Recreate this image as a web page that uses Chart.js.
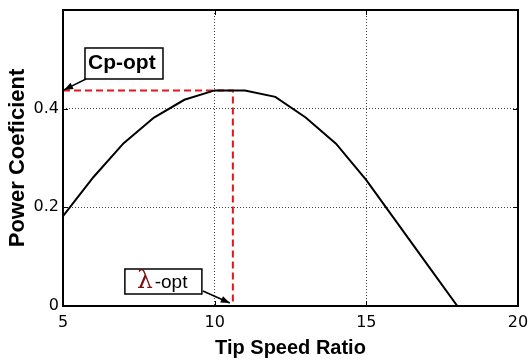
<!DOCTYPE html>
<html>
<head>
<meta charset="utf-8">
<script src="https://cdn.jsdelivr.net/npm/chart.js@4/dist/chart.umd.min.js"></script>
<style>
html,body{margin:0;padding:0;background:#fff;}
#wrap{width:528px;height:362px;}
</style>
</head>
<body>
<div id="wrap"><canvas id="c" width="528" height="362"></canvas></div>
<script>
// Data
const tipSpeedRatio = [5, 6, 7, 8, 9, 10, 11, 12, 13, 14, 15, 16, 17, 18, 18.5];
const powerCoefficient = [0.182, 0.261, 0.33, 0.382, 0.418, 0.437, 0.437, 0.424, 0.382, 0.329, 0.255, 0.17, 0.085, 0, 0];
const lambdaOpt = 10.6;
const cpOpt = 0.437;
const xTicks = [5, 10, 15, 20];
const yTicks = [0, 0.2, 0.4];

const curvePoints = tipSpeedRatio.map((x, i) => ({x, y: powerCoefficient[i]}));
const optPoints = [{x: 5, y: cpOpt}, {x: lambdaOpt, y: cpOpt}, {x: lambdaOpt, y: 0}];

function arrow(ctx, x1, y1, x2, y2) {
  ctx.beginPath(); ctx.moveTo(x1, y1); ctx.lineTo(x2, y2); ctx.stroke();
  const a = Math.atan2(y2 - y1, x2 - x1), L = 9, W = 3.5;
  ctx.beginPath();
  ctx.moveTo(x2, y2);
  ctx.lineTo(x2 - L*Math.cos(a) + W*Math.sin(a), y2 - L*Math.sin(a) - W*Math.cos(a));
  ctx.lineTo(x2 - L*Math.cos(a) - W*Math.sin(a), y2 - L*Math.sin(a) + W*Math.cos(a));
  ctx.closePath(); ctx.fill();
}

const framePlugin = {
  id: 'frame',
  afterDatasetsDraw(chart) {
    const {ctx, chartArea: a, scales} = chart;
    const xs = scales.x, ys = scales.y;
    ctx.save();
    // inner tick marks
    ctx.strokeStyle = '#000'; ctx.lineWidth = 1;
    xTicks.forEach(v => { const p = Math.round(xs.getPixelForValue(v)) + 0.5;
      ctx.beginPath(); ctx.moveTo(p, a.bottom); ctx.lineTo(p, a.bottom - 5);
      ctx.moveTo(p, a.top); ctx.lineTo(p, a.top + 5); ctx.stroke(); });
    yTicks.forEach(v => { const p = Math.round(ys.getPixelForValue(v)) + 0.5;
      ctx.beginPath(); ctx.moveTo(a.left, p); ctx.lineTo(a.left + 5, p);
      ctx.moveTo(a.right, p); ctx.lineTo(a.right - 5, p); ctx.stroke(); });
    // frame
    ctx.lineWidth = 2;
    ctx.strokeRect(a.left, a.top, a.right - a.left, a.bottom - a.top);

    // Cp-opt annotation
    const bx1 = xs.getPixelForValue(5.725), by1 = ys.getPixelForValue(0.523);
    const bw = 78, bh = 31;
    ctx.fillStyle = '#fff'; ctx.lineWidth = 1.5; ctx.strokeStyle = '#000';
    ctx.fillRect(bx1, by1, bw, bh); ctx.strokeRect(bx1, by1, bw, bh);
    ctx.fillStyle = '#000';
    ctx.font = 'bold 21px "Liberation Sans", Arial, sans-serif';
    ctx.textAlign = 'left'; ctx.textBaseline = 'middle';
    ctx.fillText('Cp-opt', bx1 + 3, by1 + bh/2);
    ctx.lineWidth = 1.5;
    arrow(ctx, bx1 + 1, by1 + bh, xs.getPixelForValue(5) + 1, ys.getPixelForValue(cpOpt) - 0.5);

    // λ-opt annotation
    const lx1 = xs.getPixelForValue(7.04), ly1 = ys.getPixelForValue(0.075);
    const lw = 77, lh = 25;
    ctx.fillStyle = '#fff'; ctx.strokeStyle = '#000'; ctx.lineWidth = 1.5;
    ctx.fillRect(lx1, ly1, lw, lh); ctx.strokeRect(lx1, ly1, lw, lh);
    ctx.textAlign = 'left'; ctx.textBaseline = 'alphabetic';
    const base = ly1 + 19;
    ctx.font = '25px "DejaVu Serif", serif';
    ctx.fillStyle = '#7a0f0f';
    ctx.fillText('λ', lx1 + 12, base);
    const lamW = ctx.measureText('λ').width;
    ctx.font = '19px "Liberation Sans", Arial, sans-serif';
    ctx.fillStyle = '#000';
    ctx.fillText('-opt', lx1 + 12 + lamW + 2, base);
    ctx.lineWidth = 1.5;
    arrow(ctx, lx1 + lw + 1, ly1 + lh - 3, xs.getPixelForValue(10.5), ys.getPixelForValue(0.006));
    ctx.restore();
  }
};

const tickFont = { size: 16, family: '"DejaVu Sans", sans-serif' };
const titleFamily = '"Liberation Sans", Arial, sans-serif';

new Chart(document.getElementById('c'), {
  type: 'line',
  data: {
    datasets: [
      { data: curvePoints, borderColor: '#000', borderWidth: 2, pointRadius: 0, tension: 0, fill: false },
      { data: optPoints, borderColor: '#e8141b', borderWidth: 2, borderDash: [7, 4], pointRadius: 0, tension: 0, fill: false }
    ]
  },
  options: {
    responsive: false,
    devicePixelRatio: 1,
    animation: false,
    layout: { padding: { top: 10, right: 10, left: 0, bottom: 0 } },
    plugins: { legend: { display: false }, tooltip: { enabled: false } },
    scales: {
      x: {
        type: 'linear', min: 5, max: 20,
        afterBuildTicks: s => { s.ticks = xTicks.map(v => ({value: v})); },
        afterFit: s => { s.height = 56; s.paddingLeft = 0; s.paddingRight = 0; },
        grid: { drawTicks: false, lineWidth: 1,
          color: c => (c.tick && (c.tick.value === 5 || c.tick.value === 20)) ? 'rgba(0,0,0,0)' : '#444' },
        border: { display: false, dash: [1, 2] },
        ticks: { padding: 7, color: '#000', maxRotation: 0, font: tickFont },
        title: { display: true, text: 'Tip Speed Ratio', color: '#000',
          font: { size: 20, weight: 'bold', family: titleFamily },
          padding: { top: 0, bottom: 2 } }
      },
      y: {
        type: 'linear', min: 0, max: 0.6,
        afterBuildTicks: s => { s.ticks = [0, 0.2, 0.4, 0.6].map(v => ({value: v})); },
        afterFit: s => { s.width = 63; s.paddingTop = 0; s.paddingBottom = 0; },
        grid: { drawTicks: false, lineWidth: 1,
          color: c => (c.tick && (c.tick.value === 0 || c.tick.value === 0.6)) ? 'rgba(0,0,0,0)' : '#444' },
        border: { display: false, dash: [1, 2] },
        ticks: { padding: 4, color: '#000',
          callback: v => yTicks.includes(v) ? String(v) : '',
          font: tickFont },
        title: { display: true, text: 'Power Coeficient', color: '#000',
          font: { size: 22, weight: 'bold', family: titleFamily },
          padding: { top: 5, bottom: 0 } }
      }
    }
  },
  plugins: [framePlugin]
});
</script>
</body>
</html>
